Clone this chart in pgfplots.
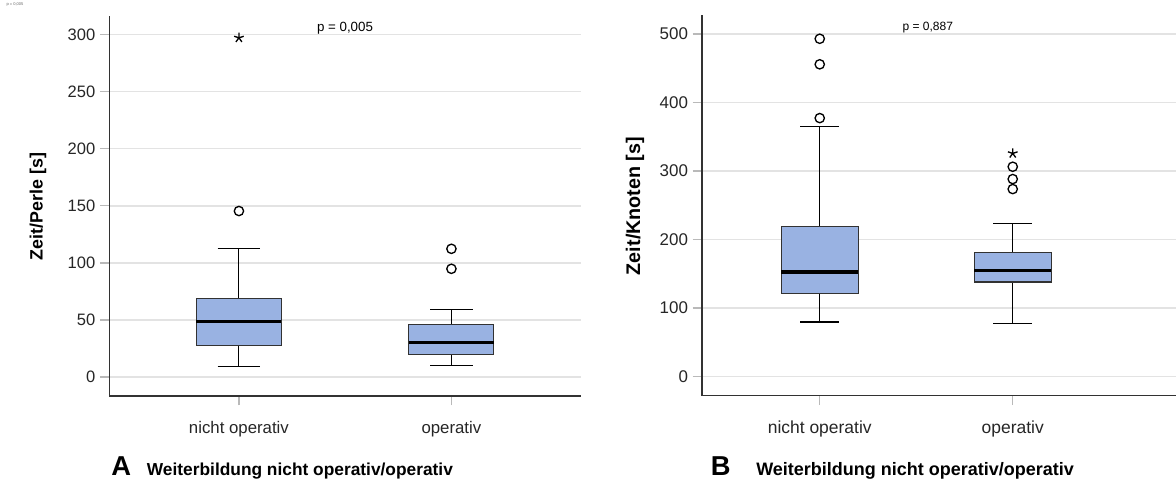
\documentclass[border=0pt]{standalone}
\usepackage{pgfplots}
\pgfplotsset{compat=1.18}
\usepgfplotslibrary{statistics}
\usepackage{fontspec}
\setmainfont{Liberation Sans}
\definecolor{boxblue}{RGB}{153,178,226}
\definecolor{gridgray}{RGB}{227,227,227}
\definecolor{tickgray}{RGB}{185,185,185}
\definecolor{axisdark}{RGB}{50,50,50}
\pgfplotsset{
  spssbox/.style={
    draw=axisdark, line width=0.8pt, fill=boxblue,
    mark=o, mark size=3.5pt, mark options={draw=black, fill=none, line width=1pt},
    boxplot/box extend=0.4, boxplot/whisker extend=0.2,
    boxplot/every median/.style={draw=black, line width=2.3pt},
    boxplot/every whisker/.style={draw=black, line width=0.8pt},
  },
  panel/.style={
    anchor=south west, scale only axis,
    boxplot/draw direction=y,
    axis x line*=bottom, axis y line*=left,
    xtick={1,2}, xticklabels={nicht operativ, operativ},
    ymajorgrids, grid style={color=gridgray, line width=1.1pt},
    tick align=outside, major tick length=7pt,
    tick style={color=tickgray, line width=1pt},
    axis line style={color=axisdark, line width=0.8pt},
    /pgf/number format/assume math mode=true,
    xticklabel style={text=black!85, yshift=-8.3pt},
    yticklabel style={text=black!85},
    clip=false,
  },
}
\begin{document}
\begin{tikzpicture}
\path[use as bounding box] (0,0) rectangle (882pt,-360.75pt);

% ---------- Panel A ----------
\begin{axis}[panel,
  at={(81.975pt,-297pt)}, width=353.8pt, height=285pt,
  xmin=0.39, xmax=2.61, ymin=-16.6, ymax=316.2,
  ytick={0,50,...,300},
  ticklabel style={font=\fontsize{12.4}{14}\selectfont},
  xticklabel style={font=\fontsize{12.6}{14}\selectfont},
]
\addplot[spssbox, boxplot prepared={draw position=1, median=48.4,
  upper quartile=69.2, lower quartile=27.4, upper whisker=112.7, lower whisker=9.6}]
  table[row sep=\\, y index=0] {145.4\\};
\addplot[spssbox, boxplot prepared={draw position=2, median=30.0,
  upper quartile=46.1, lower quartile=20.1, upper whisker=58.9, lower whisker=10.5}]
  table[row sep=\\, y index=0] {112.3\\ 94.8\\};
\addplot[only marks, mark=star, mark size=3.8pt, mark options={draw=black, line width=1pt}]
  coordinates {(1,297.1)};
\end{axis}

% ---------- Panel B ----------
\begin{axis}[panel,
  at={(526.5pt,-296.8pt)}, width=355.5pt, height=285.5pt,
  xmin=0.39, xmax=2.846, ymin=-28.3, ymax=527.4,
  ytick={0,100,...,500},
  ticklabel style={font=\fontsize{12.7}{14}\selectfont},
  xticklabel style={font=\fontsize{13.1}{15}\selectfont},
]
\addplot[spssbox, boxplot prepared={draw position=1, median=152.3,
  upper quartile=219, lower quartile=121.2, upper whisker=365.4, lower whisker=79.3}]
  table[row sep=\\, y index=0] {492.8\\ 455.5\\ 377\\};
\addplot[spssbox, boxplot prepared={draw position=2, median=155.2,
  upper quartile=181, lower quartile=137.7, upper whisker=222.8, lower whisker=76.8}]
  table[row sep=\\, y index=0] {306\\ 288\\ 273.4\\};
\addplot[only marks, mark=star, mark size=3.8pt, mark options={draw=black, line width=1pt}]
  coordinates {(2,325.5)};
\end{axis}

% ---------- texts ----------
\node[font=\fontsize{3}{3}\selectfont, text=black!60, inner sep=0pt] at (11.25pt,-3.75pt) {p = 0,005};
\node[font=\fontsize{10}{12}\selectfont, inner sep=0pt] at (258.75pt,-20.8pt) {p = 0,005};
\node[font=\fontsize{9}{11}\selectfont, inner sep=0pt] at (695.8pt,-20.8pt) {p = 0,887};
\node[font=\bfseries\fontsize{13.4}{15}\selectfont, rotate=90, inner sep=0pt] at (28.5pt,-154.9pt) {Zeit/Perle [s]};
\node[font=\bfseries\fontsize{14.8}{16}\selectfont, rotate=90, inner sep=0pt] at (476.25pt,-154.5pt) {Zeit/Knoten [s]};
\node[font=\bfseries\fontsize{20.5}{22}\selectfont, anchor=base, inner sep=0pt] at (91pt,-356.25pt) {A};
\node[font=\bfseries\fontsize{20.5}{22}\selectfont, anchor=base, inner sep=0pt] at (540.6pt,-356.25pt) {B};
\node[font=\bfseries\fontsize{13}{15}\selectfont, anchor=base west, inner sep=0pt] at (110pt,-356.6pt) {Weiterbildung nicht operativ/operativ};
\node[font=\bfseries\fontsize{13.5}{15}\selectfont, anchor=base west, inner sep=0pt] at (567pt,-356.6pt) {Weiterbildung nicht operativ/operativ};
\end{tikzpicture}
\end{document}
